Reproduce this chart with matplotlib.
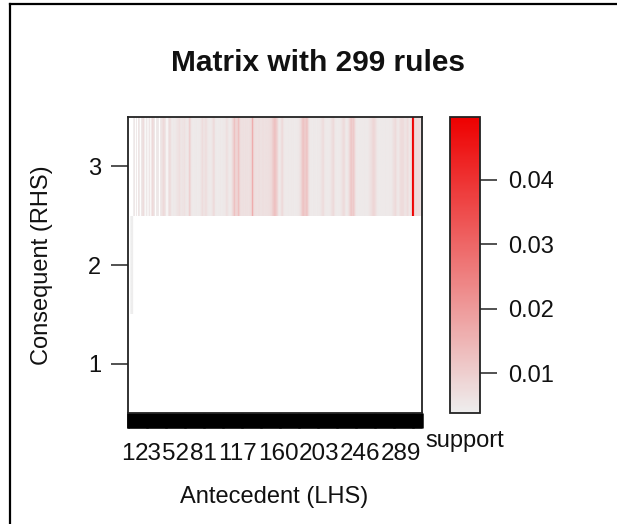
import numpy as np
import matplotlib
matplotlib.use("Agg")
import matplotlib.pyplot as plt
from matplotlib.colors import LinearSegmentedColormap, Normalize
from matplotlib.lines import Line2D

plt.rcParams['font.family'] = ['Liberation Sans', 'DejaVu Sans']

# number of antecedent (LHS) itemsets and consequent (RHS) items on the axes
n_lhs = 311
rhs_levels = [1, 2, 3]

# rules whose consequent is item 2
lhs_rhs2 = [4, 5, 6]
support_rhs2 = [0.0038, 0.0039, 0.0040]

# rules whose consequent is item 3: support for LHS 7..311 (None = no rule)
support_rhs3 = [
    0.0046, 0.0052, None, 0.0049, None, 0.0058, 0.0047, None, 0.0050, 0.0062,
    0.0078, 0.0055, None, 0.0048, 0.0051, None, 0.0047, 0.0060, None, 0.0066,
    0.0080, 0.0068, 0.0049, None, 0.0047, 0.0052, 0.0048, None, 0.0050, 0.0058,
    0.0064, 0.0079, 0.0076, 0.0060, 0.0048, None, 0.0050, 0.0062, 0.0082, 0.0064,
    0.0048, 0.0046, 0.0050, 0.0047, 0.0049, 0.0055, 0.0058, 0.0062, 0.0070, 0.0058,
    0.0055, 0.0060, 0.0057, 0.0068, 0.0056, 0.0052, 0.0049, 0.0047, 0.0072, 0.0110,
    0.0068, 0.0049, 0.0047, 0.0046, 0.0048, 0.0047, 0.0050, 0.0046, 0.0048, 0.0047,
    0.0052, 0.0060, 0.0074, 0.0063, 0.0058, 0.0066, 0.0072, 0.0060, 0.0049, 0.0047,
    0.0046, 0.0048, 0.0052, 0.0062, 0.0074, 0.0068, 0.0050, 0.0047, 0.0046, 0.0048,
    0.0047, 0.0049, 0.0046, 0.0048, 0.0050, 0.0047, 0.0052, 0.0060, 0.0072, 0.0058,
    0.0049, 0.0047, 0.0050, 0.0058, 0.0078, 0.0098, 0.0125, 0.0092, 0.0088, 0.0095,
    0.0130, 0.0098, 0.0072, 0.0066, 0.0064, 0.0068, 0.0063, 0.0065, 0.0067, 0.0064,
    0.0066, 0.0063, 0.0068, 0.0072, 0.0095, 0.0170, 0.0090, 0.0068, 0.0064, 0.0066,
    0.0063, 0.0065, 0.0067, 0.0064, 0.0062, 0.0066, 0.0068, 0.0064, 0.0063, 0.0065,
    0.0066, 0.0064, 0.0068, 0.0070, 0.0074, 0.0080, 0.0098, 0.0112, 0.0125, 0.0118,
    0.0104, 0.0085, 0.0060, 0.0050, 0.0052, 0.0068, 0.0082, 0.0066, 0.0050, 0.0047,
    0.0046, 0.0048, 0.0047, 0.0049, 0.0046, 0.0048, 0.0050, 0.0047, 0.0049, 0.0046,
    0.0048, 0.0047, 0.0050, 0.0052, 0.0058, 0.0068, 0.0085, 0.0105, 0.0128, 0.0110,
    0.0102, 0.0108, 0.0125, 0.0098, 0.0068, 0.0052, 0.0048, 0.0047, 0.0046, 0.0049,
    0.0047, 0.0048, 0.0046, 0.0050, 0.0047, 0.0049, 0.0052, 0.0058, 0.0066, 0.0076,
    0.0062, 0.0050, 0.0047, 0.0046, 0.0048, 0.0047, 0.0049, 0.0054, 0.0064, 0.0072,
    0.0076, 0.0060, 0.0049, 0.0047, 0.0046, 0.0048, 0.0047, 0.0050, 0.0055, 0.0064,
    0.0072, 0.0078, 0.0062, 0.0050, 0.0048, 0.0054, 0.0066, 0.0085, 0.0105, 0.0112,
    0.0098, 0.0108, 0.0088, 0.0064, 0.0050, 0.0047, 0.0046, 0.0048, 0.0047, 0.0049,
    0.0046, 0.0048, 0.0047, 0.0050, 0.0046, 0.0048, 0.0047, 0.0052, 0.0058, 0.0064,
    0.0070, 0.0078, 0.0084, 0.0080, 0.0072, 0.0060, 0.0050, 0.0047, 0.0046, 0.0048,
    0.0047, 0.0049, 0.0046, 0.0048, 0.0047, 0.0050, 0.0046, 0.0048, 0.0047, 0.0049,
    0.0047, 0.0050, 0.0056, 0.0064, 0.0072, 0.0076, 0.0064, 0.0054, 0.0050, 0.0058,
    0.0068, 0.0076, 0.0072, 0.0078, 0.0066, 0.0056, 0.0060, 0.0068, 0.0076, 0.0062,
    0.0054, 0.0062, 0.0095, 0.0497, 0.0462, 0.0105, 0.0070, 0.0074, 0.0068, 0.0072,
    0.0070, 0.0066, 0.0056, 0.0050, 0.0048,
]
first_lhs_rhs3 = 7

# antecedent labels that fit along the axis
x_tick_labels = [1, 23, 52, 81, 117, 160, 203, 246, 289]
cbar_ticks = [0.01, 0.02, 0.03, 0.04]

# build the RHS x LHS support matrix (NaN where there is no rule)
mat = np.full((len(rhs_levels), n_lhs), np.nan)
for lhs, s in zip(lhs_rhs2, support_rhs2):
    mat[1, lhs - 1] = s
for i, s in enumerate(support_rhs3):
    if s is not None:
        mat[2, first_lhs_rhs3 + i - 1] = s

n_rules = int(np.sum(~np.isnan(mat)))
all_support = mat[~np.isnan(mat)]

cmap = LinearSegmentedColormap.from_list("support", ["#EEEEEE", "#EE0000"])
cmap.set_bad("white")
norm = Normalize(vmin=all_support.min(), vmax=all_support.max())

W, H = 617, 524
fig = plt.figure(figsize=(W / 100, H / 100), dpi=100)

def fx(px):
    return px / W

def fy(py):
    return 1 - py / H

ax_l, ax_r, ax_t, ax_b = 127.5, 422.0, 117.0, 413.0
ax = fig.add_axes([fx(ax_l), fy(ax_b), fx(ax_r - ax_l), (ax_b - ax_t) / H])

# one image strip per consequent row, so rows stay crisp while columns are
# smoothed horizontally
im = None
for r, rhs in enumerate(rhs_levels):
    row = mat[r:r + 1, :]
    if np.all(np.isnan(row)):
        continue
    im = ax.imshow(row, cmap=cmap, norm=norm, origin="lower", aspect="auto",
                   extent=(0.5, n_lhs + 0.5, rhs - 0.5, rhs + 0.5),
                   interpolation="antialiased")
ax.set_xlim(1, n_lhs)
ax.set_ylim(0.5, len(rhs_levels) + 0.5)

for sp in ax.spines.values():
    sp.set_linewidth(1.3)
    sp.set_color("#222222")
    sp.set_zorder(5)

ax.set_yticks(rhs_levels)
ax.set_yticklabels([str(v) for v in rhs_levels])
ax.tick_params(axis="y", direction="out", length=12, width=1.1, pad=7,
               labelsize=17, color="#222222", labelcolor="#111111")

ax.set_xticks(x_tick_labels)
ax.set_xticklabels([str(v) for v in x_tick_labels])
ax.set_xticks([k for k in range(1, n_lhs + 1) if k not in x_tick_labels], minor=True)
ax.tick_params(axis="x", which="both", direction="out", length=10.5, width=1.8,
               color="black")
ax.tick_params(axis="x", which="major", pad=11, labelsize=17.5, labelcolor="#111111")

# colour key
cax = fig.add_axes([fx(450), fy(ax_b), fx(30), (ax_b - ax_t) / H])
cb = fig.colorbar(im, cax=cax)
cb.set_ticks(cbar_ticks)
cb.set_ticklabels([f"{t:.2f}" for t in cbar_ticks])
cb.outline.set_linewidth(1.3)
cb.outline.set_edgecolor("#222222")
cax.tick_params(direction="out", length=12, width=1.1, pad=8, labelsize=17,
                color="#222222", labelcolor="#111111")

fig.text(fx(465), fy(441), "support", ha="center", va="center", fontsize=17,
         color="#111111")

fig.text(fx(318), fy(63), f"Matrix with {n_rules} rules", ha="center",
         va="center", fontsize=21.5, fontweight="bold", color="#111111")
fig.text(fx(274.5), fy(497), "Antecedent (LHS)", ha="center", va="center",
         fontsize=17, color="#111111")
fig.text(fx(42), fy(265), "Consequent (RHS)", ha="center", va="center",
         fontsize=17, rotation=90, color="#111111")

# frame along the top and left edges
fig.add_artist(Line2D([fx(10.5), fx(10.5)], [0, fy(4)], transform=fig.transFigure,
                      color="black", linewidth=1.6))
fig.add_artist(Line2D([fx(10.5), 1], [fy(4), fy(4)], transform=fig.transFigure,
                      color="black", linewidth=1.6))

fig.savefig("out.png", dpi=100)
